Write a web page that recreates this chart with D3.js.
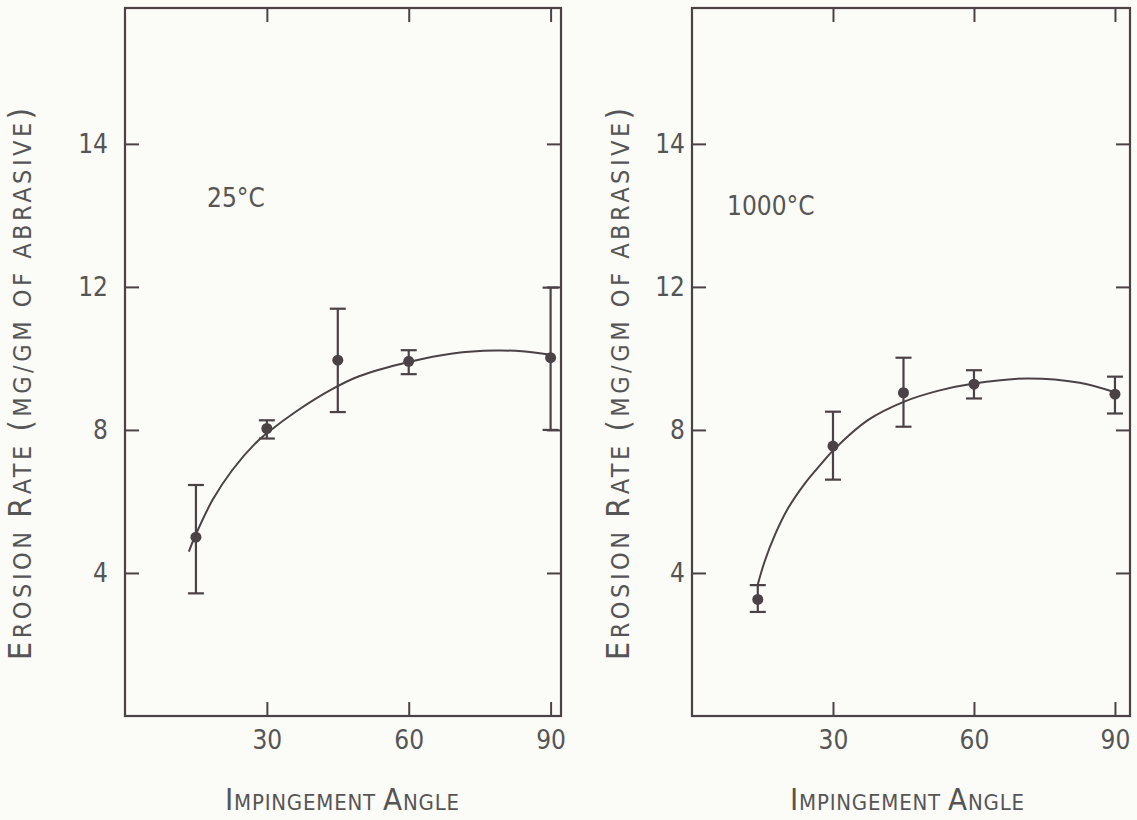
<!DOCTYPE html>
<html>
<head>
<meta charset="utf-8">
<script src="https://cdn.jsdelivr.net/npm/d3@7"></script>
<style>
  html, body { margin: 0; padding: 0; background: #fbfbf7; }
  svg { display: block; }
  .lbl { font-family: "DejaVu Sans Condensed", "DejaVu Sans", sans-serif; fill: #555; }
</style>
</head>
<body>
<div id="chart"></div>
<script>
// ---- data ----
const angleTicks = [30, 60, 90];
const rateTicks = [4, 8, 12, 16];
const rateTickLabels = ["4", "8", "12", "14"]; // the top tick is printed "14" in the original

// 25°C
const angles25 = [15, 30, 45, 60, 90];
const rate25   = [5.0, 8.04, 9.95, 9.92, 10.02];
const lo25     = [3.43, 7.76, 8.5, 9.56, 8.0];
const hi25     = [6.46, 8.27, 11.39, 10.23, 11.98];
const fitX25   = [13.5, 14.8, 18.5, 22.7, 27.6, 30.4, 36.1, 43.8, 49.5, 60, 69.3, 78.4, 84, 90];
const fitY25   = [4.6, 5.02, 6.04, 6.88, 7.63, 7.95, 8.51, 9.14, 9.5, 9.9, 10.14, 10.22, 10.2, 10.1];

// 1000°C
const angles1000 = [14, 30, 45, 60, 90];
const rate1000   = [3.26, 7.55, 9.04, 9.28, 9.0];
const lo1000     = [2.91, 6.61, 8.09, 8.88, 8.46];
const hi1000     = [3.66, 8.51, 10.02, 9.67, 9.49];
const fitX1000   = [14.0, 15.4, 17.6, 20.4, 24.0, 27.5, 30.2, 37.5, 45.3, 52.5, 60, 71.2, 82.5, 90.3];
const fitY1000   = [3.68, 4.30, 5.05, 5.80, 6.50, 7.05, 7.45, 8.28, 8.80, 9.10, 9.30, 9.44, 9.32, 9.04];

// axis titles, split into [text, isCapital] runs for the small-caps lettering
const yTitleRuns = [["E", 1], ["ROSION ", 0], ["R", 1], ["ATE ", 0], ["(", 1], ["MG/GM OF ABRASIVE", 0], [")", 1]];
const xTitleRuns = [["I", 1], ["MPINGEMENT ", 0], ["A", 1], ["NGLE", 0]];

const W = 1137, H = 820;
const INK = "#4b4246";

const svg = d3.select("#chart").append("svg")
  .attr("width", W).attr("height", H);

svg.append("rect").attr("width", W).attr("height", H).attr("fill", "#fbfbf7");

const zip = (xs, ys) => xs.map((x, i) => [x, ys[i]]);

const panels = [
  {
    label: "25°C", labelX: 207, labelY: 207,
    left: 125, right: 561, xMax: 92.2, tickPad: 17,
    yTitleX: 31, xTitleX: 342,
    pts: angles25.map((a, i) => ({ a, v: rate25[i], lo: lo25[i], hi: hi25[i] })),
    fit: zip(fitX25, fitY25)
  },
  {
    label: "1000°C", labelX: 727, labelY: 215,
    left: 692, right: 1130, xMax: 93.2, tickPad: 7,
    yTitleX: 629, xTitleX: 907,
    pts: angles1000.map((a, i) => ({ a, v: rate1000[i], lo: lo1000[i], hi: hi1000[i] })),
    fit: zip(fitX1000, fitY1000)
  }
];

const plotTop = 8, plotBottom = 716;

function smallCaps(text, runs, len, big, small) {
  text.attr("textLength", len).attr("lengthAdjust", "spacing");
  runs.forEach(([s, cap]) => {
    text.append("tspan").attr("font-size", cap ? big : small).text(s);
  });
}

panels.forEach(p => {
  const x = d3.scaleLinear().domain([0, p.xMax]).range([p.left, p.right]);
  const y = d3.scaleLinear().domain([0, 19.8]).range([plotBottom, plotTop]);
  const g = svg.append("g");

  // inward ticks on all four sides
  const fmtY = v => rateTickLabels[rateTicks.indexOf(v)];
  const axB = g.append("g").attr("transform", `translate(0,${plotBottom})`)
    .call(d3.axisBottom(x).tickValues(angleTicks).tickSizeInner(-14).tickSizeOuter(0).tickPadding(15));
  const axT = g.append("g").attr("transform", `translate(0,${plotTop})`)
    .call(d3.axisTop(x).tickValues(angleTicks).tickSizeInner(-14).tickSizeOuter(0).tickFormat(""));
  const axL = g.append("g").attr("transform", `translate(${p.left},0)`)
    .call(d3.axisLeft(y).tickValues(rateTicks).tickSizeInner(-14).tickSizeOuter(0)
      .tickPadding(p.tickPad).tickFormat(fmtY));
  const axR = g.append("g").attr("transform", `translate(${p.right},0)`)
    .call(d3.axisRight(y).tickValues(rateTicks).tickSizeInner(-14).tickSizeOuter(0).tickFormat(""));

  [axB, axT, axL, axR].forEach(a => {
    a.select(".domain").remove();
    a.selectAll("line").attr("stroke", INK).attr("stroke-width", 2);
    a.selectAll("text").attr("class", "lbl").attr("fill", "#555")
      .style("font-size", "26px");
  });

  // frame
  g.append("rect")
    .attr("x", p.left).attr("y", plotTop)
    .attr("width", p.right - p.left).attr("height", plotBottom - plotTop)
    .attr("fill", "none").attr("stroke", INK).attr("stroke-width", 2.2);

  // fitted curve
  g.append("path")
    .datum(p.fit)
    .attr("fill", "none").attr("stroke", INK).attr("stroke-width", 2)
    .attr("d", d3.line().x(d => x(d[0])).y(d => y(d[1])).curve(d3.curveCatmullRom.alpha(0.5)));

  // error bars
  const eb = g.selectAll("g.eb").data(p.pts).join("g").attr("class", "eb")
    .attr("stroke", INK).attr("stroke-width", 2.2);
  eb.append("line")
    .attr("x1", d => x(d.a)).attr("x2", d => x(d.a))
    .attr("y1", d => y(d.lo)).attr("y2", d => y(d.hi));
  eb.append("line")
    .attr("x1", d => x(d.a) - 8).attr("x2", d => x(d.a) + 8)
    .attr("y1", d => y(d.lo)).attr("y2", d => y(d.lo));
  eb.append("line")
    .attr("x1", d => x(d.a) - 8).attr("x2", d => x(d.a) + 8)
    .attr("y1", d => y(d.hi)).attr("y2", d => y(d.hi));

  g.selectAll("circle.pt").data(p.pts).join("circle")
    .attr("class", "pt")
    .attr("cx", d => x(d.a)).attr("cy", d => y(d.v)).attr("r", 5.5)
    .attr("fill", INK);

  // temperature label
  g.append("text").attr("class", "lbl")
    .attr("x", p.labelX).attr("y", p.labelY)
    .style("font-size", "26px")
    .text(p.label);

  // axis titles
  g.append("text").attr("class", "lbl")
    .attr("transform", `translate(${p.yTitleX},384) rotate(-90)`)
    .attr("text-anchor", "middle")
    .call(t => smallCaps(t, yTitleRuns, 552, 32, 25));

  g.append("text").attr("class", "lbl")
    .attr("x", p.xTitleX).attr("y", 810)
    .attr("text-anchor", "middle")
    .call(t => smallCaps(t, xTitleRuns, 234, 31, 22));
});
</script>
</body>
</html>
